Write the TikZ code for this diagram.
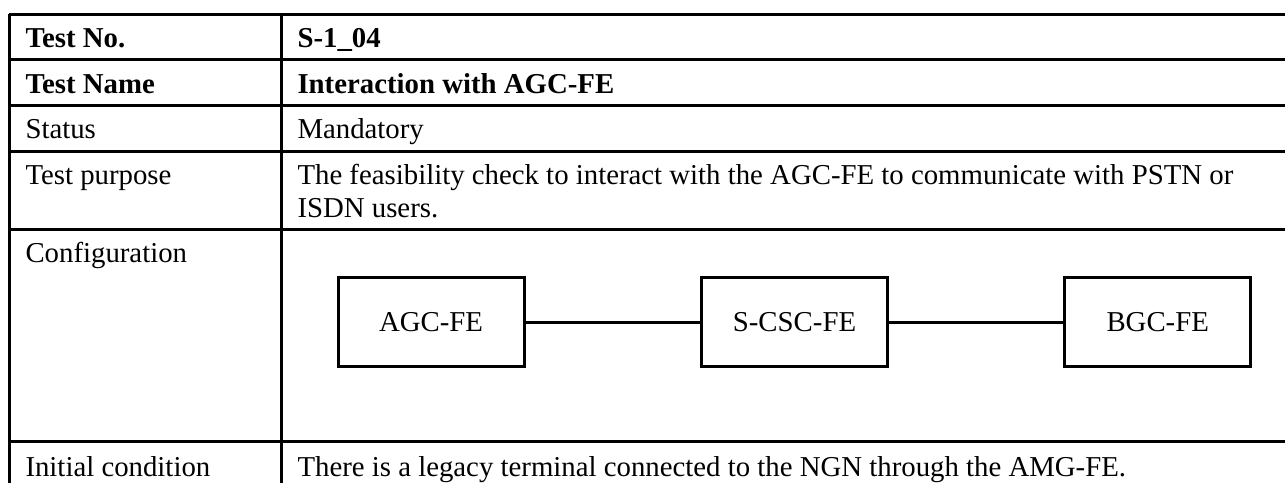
\documentclass[tikz,border=0pt]{standalone}
\usepackage{fontspec}
\setmainfont{Liberation Serif}
\begin{document}
\begin{tikzpicture}[x=0.5pt,y=-0.5pt,line width=1.5pt,
        cell/.style={anchor=base west,inner sep=0pt,font=\fontsize{14.4}{16.5}\selectfont},
        febox/.style={draw,minimum width=93pt,minimum height=44.5pt,inner sep=0pt,
            font=\fontsize{14.4}{16.5}\selectfont}]
    \useasboundingbox (0,0) rectangle (1285,483);
    % table rules
    \draw (9,14) -- (1285,14)
          (9,59) -- (1285,59)
          (9,105) -- (1285,105)
          (9,151) -- (1285,151)
          (9,229) -- (1285,229)
          (9,441) -- (1285,441);
    \draw (9,14) -- (9,483)
          (281,14) -- (281,483);
    % left column
    \node[cell] (no) at (24,47) {\textbf{Test No.}};
    \node[cell] (name) at (24,93) {\textbf{Test Name}};
    \node[cell] (status) at (24,138) {Status};
    \node[cell] (purpose) at (24,184) {Test purpose};
    \node[cell] (config) at (24,262) {Configuration};
    \node[cell] (init) at (24,476) {Initial condition};
    % right column
    \node[cell] (novalue) at (296,47) {\textbf{S-1\_04}};
    \node[cell] (namevalue) at (296,93) {\textbf{Interaction with AGC-FE}};
    \node[cell] (statusvalue) at (296,138) {Mandatory};
    \node[cell] (purposeone) at (296,184) {The feasibility check to interact with the AGC-FE to communicate with PSTN or};
    \node[cell] (purposetwo) at (296,217) {ISDN users.};
    \node[cell] (initvalue) at (296,476) {There is a legacy terminal connected to the NGN through the AMG-FE.};
    % configuration
    \node[febox] (agc) at (431,322) {AGC-FE};
    \node[febox] (csc) at (794.5,322) {S-CSC-FE};
    \node[febox] (bgc) at (1157.7,322) {BGC-FE};
    \draw (agc) -- (csc)
          (csc) -- (bgc);
\end{tikzpicture}
\end{document}
